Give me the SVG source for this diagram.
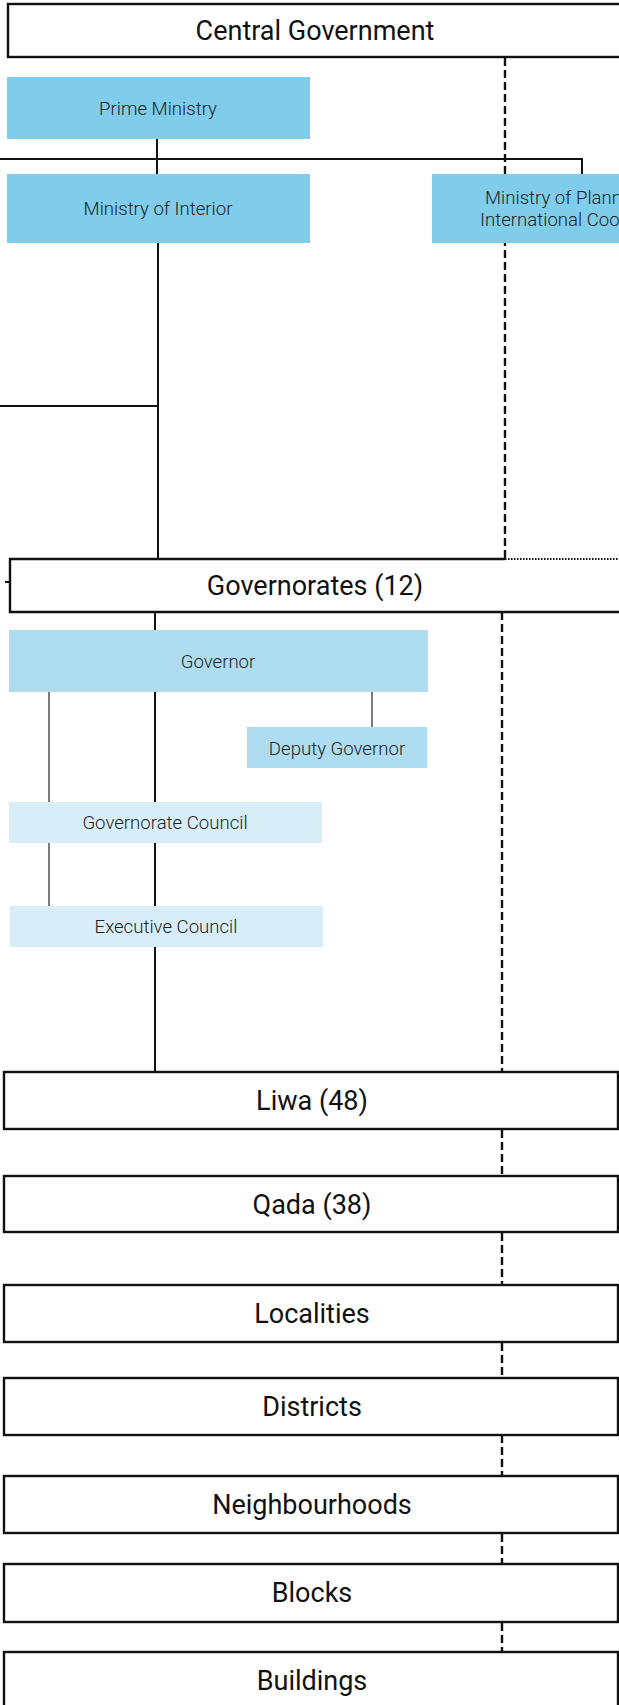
<svg xmlns="http://www.w3.org/2000/svg" width="619" height="1705" viewBox="0 0 619 1705">
<style>
.lvl{fill:#fff;stroke:#111;stroke-width:2.4}
.ht{font-family:Roboto,"Liberation Sans",sans-serif;font-size:27px;fill:#111;text-anchor:middle}
.bt{font-family:Roboto,"Liberation Sans",sans-serif;font-weight:300;font-size:18.6px;fill:#222;text-anchor:middle}
.b1{fill:#7FCDEB}
.b2{fill:#AEDDF2}
.b3{fill:#D7EEF9}
.c{fill:none;stroke:#111;stroke-width:2}
.ct{fill:none;stroke:#333;stroke-width:1.3}
.d{fill:none;stroke:#111;stroke-width:2.4;stroke-dasharray:8 4}
</style>
<g id="connectors">
<path class="c" d="M157 139 V174"/>
<path class="c" d="M0 159 H582 V174"/>
<path class="c" d="M158 243 V559"/>
<path class="c" d="M0 406 H158"/>
<path class="c" d="M5 582 H10"/>
<path class="c" d="M155 612 V630"/>
<path class="c" d="M155 692 V802"/>
<path class="ct" d="M49 692 V802"/>
<path class="ct" d="M372 692 V727"/>
<path class="c" d="M155 843 V906"/>
<path class="ct" d="M49 843 V906"/>
<path class="c" d="M155 947 V1072"/>
<path class="d" d="M505 58 V559"/>
<path class="d" d="M502 612 V1072"/>
<path class="d" d="M502 1130 V1176"/>
<path class="d" d="M502 1233 V1285"/>
<path class="d" d="M502 1343 V1378"/>
<path class="d" d="M502 1435 V1476"/>
<path class="d" d="M502 1534 V1564"/>
<path class="d" d="M502 1623 V1652"/>
</g>
<g id="central-government">
<rect class="lvl" x="8" y="4" width="620" height="53"/>
<text class="ht" x="315" y="40">Central Government</text>
</g>
<g id="prime-ministry">
<rect class="b1" x="7" y="77" width="303" height="62"/>
<text class="bt" x="158" y="115">Prime Ministry</text>
</g>
<g id="ministry-interior">
<rect class="b1" x="7" y="174" width="303" height="69"/>
<text class="bt" x="158" y="215">Ministry of Interior</text>
</g>
<g id="ministry-planning">
<rect class="b1" x="432" y="174" width="200" height="69"/>
<text class="bt" x="485" y="204" style="text-anchor:start">Ministry of Plann</text>
<text class="bt" x="480" y="226" style="text-anchor:start">International Coo</text>
</g>
<g id="governorates">
<rect x="10" y="559" width="620" height="53" fill="#fff"/>
<path fill="none" stroke="#111" stroke-width="2.4" d="M505 559 H10 V612 H630"/>
<path fill="none" stroke="#111" stroke-width="2" stroke-dasharray="1.5 1.5" d="M505 559 H619"/>
<text class="ht" x="315" y="595">Governorates (12)</text>
</g>
<g id="governor">
<rect class="b2" x="9" y="630" width="419" height="62"/>
<text class="bt" x="218" y="668">Governor</text>
</g>
<g id="deputy-governor">
<rect class="b2" x="247" y="727" width="180" height="41"/>
<text class="bt" x="337" y="755">Deputy Governor</text>
</g>
<g id="governorate-council">
<rect class="b3" x="9" y="802" width="313" height="41"/>
<text class="bt" x="165" y="829">Governorate Council</text>
</g>
<g id="executive-council">
<rect class="b3" x="10" y="906" width="313" height="41"/>
<text class="bt" x="166" y="933">Executive Council</text>
</g>
<g id="liwa">
<rect class="lvl" x="4" y="1072" width="614" height="57"/>
<text class="ht" x="312" y="1110">Liwa (48)</text>
</g>
<g id="qada">
<rect class="lvl" x="4" y="1176" width="614" height="56"/>
<text class="ht" x="312" y="1214">Qada (38)</text>
</g>
<g id="localities">
<rect class="lvl" x="4" y="1285" width="614" height="57"/>
<text class="ht" x="312" y="1323">Localities</text>
</g>
<g id="districts">
<rect class="lvl" x="4" y="1378" width="614" height="57"/>
<text class="ht" x="312" y="1416">Districts</text>
</g>
<g id="neighbourhoods">
<rect class="lvl" x="4" y="1476" width="614" height="57"/>
<text class="ht" x="312" y="1514">Neighbourhoods</text>
</g>
<g id="blocks">
<rect class="lvl" x="4" y="1564" width="614" height="58"/>
<text class="ht" x="312" y="1602">Blocks</text>
</g>
<g id="buildings">
<rect class="lvl" x="4" y="1652" width="614" height="60"/>
<text class="ht" x="312" y="1690">Buildings</text>
</g>
</svg>
